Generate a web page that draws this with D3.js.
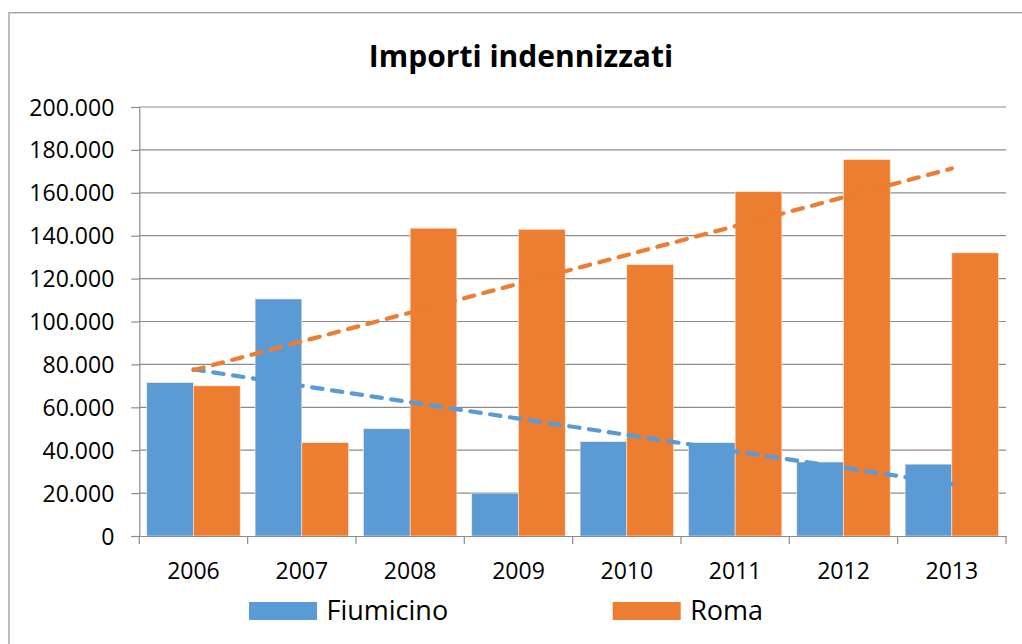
<!DOCTYPE html>
<html>
<head>
<meta charset="utf-8">
<script src="https://cdn.jsdelivr.net/npm/d3@7"></script>
<style>
  body { margin: 0; background: #fff; }
  svg text { font-family: "Open Sans", sans-serif; fill: #000; }
</style>
</head>
<body>
<svg id="chart" width="1022" height="644"></svg>
<script>
var years = ["2006", "2007", "2008", "2009", "2010", "2011", "2012", "2013"];
var seriesNames = ["Fiumicino", "Roma"];
var fiumicino = [71500, 110500, 50000, 20000, 44000, 43500, 34500, 33500];
var roma = [70000, 43500, 143500, 143000, 126500, 160500, 175500, 132000];
var yTicks = [0, 20000, 40000, 60000, 80000, 100000, 120000, 140000, 160000, 180000, 200000];
var colors = ["#5B9BD5", "#ED7D31"];

var values = [fiumicino, roma];

var svg = d3.select("#chart");

var locale = d3.formatLocale({decimal: ",", thousands: ".", grouping: [3], currency: ["€", ""]});
var fmt = locale.format(",d");

var plotLeft = 139.3, plotRight = 1006, plotTop = 107, plotBottom = 536;

var x0 = d3.scaleBand()
    .domain(years)
    .range([plotLeft, plotRight])
    .padding(0);

var x1 = d3.scaleBand()
    .domain(seriesNames)
    .range([0, x0.bandwidth()])
    .paddingInner(0)
    .paddingOuter(0.16);

var y = d3.scaleLinear()
    .domain([0, 200000])
    .range([plotBottom, plotTop]);

// chart frame
svg.append("rect")
    .attr("x", 9)
    .attr("y", 12.7)
    .attr("width", 1030)
    .attr("height", 650)
    .attr("fill", "none")
    .attr("stroke", "#9a9a9a")
    .attr("stroke-width", 1.3);

// title
svg.append("text")
    .attr("x", 521)
    .attr("y", 67)
    .attr("text-anchor", "middle")
    .style("font-size", "30px")
    .style("font-weight", "bold")
    .text("Importi indennizzati");

// gridlines
svg.append("g")
  .selectAll("line")
  .data(yTicks.slice(1))
  .enter().append("line")
    .attr("x1", plotLeft)
    .attr("x2", plotRight)
    .attr("y1", function(d) { return y(d); })
    .attr("y2", function(d) { return y(d); })
    .attr("stroke", "#8c8c8c")
    .attr("stroke-width", 1.2);

// bars
seriesNames.forEach(function(name, si) {
  svg.append("g")
    .selectAll("rect")
    .data(years)
    .enter().append("rect")
      .attr("x", function(d) { return x0(d) + x1(name); })
      .attr("y", function(d, i) { return y(values[si][i]); })
      .attr("width", x1.bandwidth())
      .attr("height", function(d, i) { return plotBottom - y(values[si][i]); })
      .attr("fill", colors[si])
      .attr("stroke", "#fbe9dd")
      .attr("stroke-width", 0.6);
});

// linear trendlines (least squares, like Excel)
seriesNames.forEach(function(name, si) {
  var v = values[si];
  var n = v.length;
  var mx = (n + 1) / 2;
  var my = d3.mean(v);
  var sxy = 0, sxx = 0;
  v.forEach(function(val, i) {
    sxy += (i + 1 - mx) * (val - my);
    sxx += (i + 1 - mx) * (i + 1 - mx);
  });
  var slope = sxy / sxx;
  var ends = [years[0], years[n - 1]].map(function(yr, k) {
    var xi = k === 0 ? 1 : n;
    return [x0(yr) + x0.bandwidth() / 2, y(my + slope * (xi - mx))];
  });
  svg.append("path")
      .attr("d", d3.line()(ends))
      .attr("fill", "none")
      .attr("stroke", colors[si])
      .attr("stroke-width", 4.2)
      .attr("stroke-linecap", "round")
      .attr("stroke-dasharray", "10.5,9.5");
});

// y axis
var yAxis = svg.append("g")
    .attr("transform", "translate(" + plotLeft + ",0)")
    .call(d3.axisLeft(y).tickValues(yTicks).tickFormat(fmt).tickSize(8).tickPadding(17));
yAxis.select(".domain").attr("stroke", "#8c8c8c").attr("stroke-width", 1.2);
yAxis.selectAll(".tick line").attr("stroke", "#8c8c8c").attr("stroke-width", 1.2);
yAxis.selectAll("text")
    .style("font-size", "23px")
    .attr("dy", "0.35em")
    .attr("fill", "#000");

// x axis
var xAxis = svg.append("g")
    .attr("transform", "translate(0," + plotBottom + ")")
    .call(d3.axisBottom(x0).tickSize(0).tickPadding(27));
xAxis.select(".domain").attr("stroke", "#8c8c8c").attr("stroke-width", 1.2);
xAxis.selectAll("text").style("font-size", "23px").attr("fill", "#000");

// x axis tick marks at band boundaries
svg.append("g")
  .selectAll("line")
  .data(years.concat(["end"]))
  .enter().append("line")
    .attr("x1", function(d) { return d === "end" ? plotRight : x0(d); })
    .attr("x2", function(d) { return d === "end" ? plotRight : x0(d); })
    .attr("y1", plotBottom)
    .attr("y2", plotBottom + 8)
    .attr("stroke", "#8c8c8c")
    .attr("stroke-width", 1.2);

// legend
var legendX = [249, 612.7];
var legend = svg.append("g")
  .selectAll("g")
  .data(seriesNames)
  .enter().append("g")
    .attr("transform", function(d, i) { return "translate(" + legendX[i] + ",602)"; });

legend.append("rect")
    .attr("width", 68)
    .attr("height", 18)
    .attr("fill", function(d, i) { return colors[i]; });

legend.append("text")
    .attr("x", 77.5)
    .attr("y", 17.5)
    .style("font-size", "27px")
    .text(function(d) { return d; });
</script>
</body>
</html>
